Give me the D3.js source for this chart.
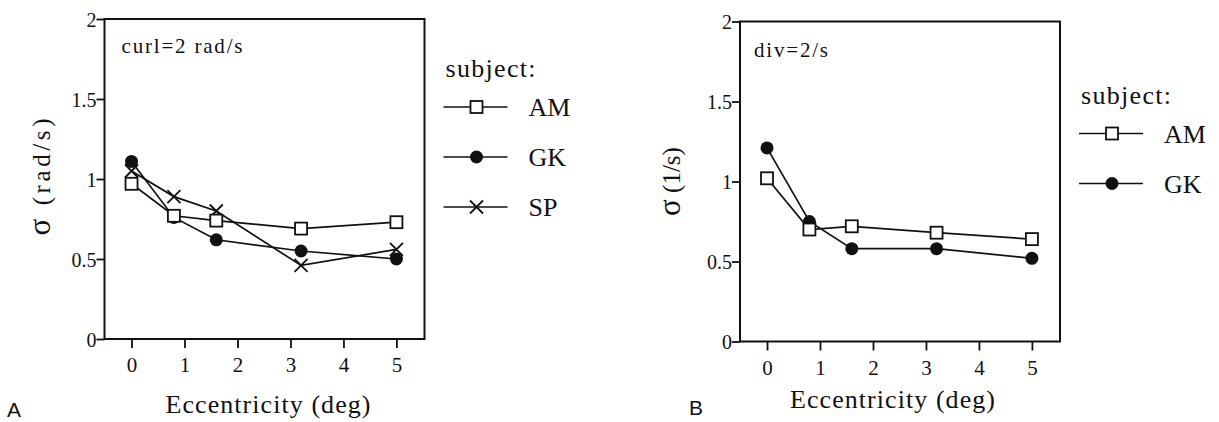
<!DOCTYPE html>
<html>
  <head>
    <script src="https://d3js.org/d3.v7.min.js"></script>
  </head>
  <style type="text/css">
    body { margin: 0; background: #fff; }
    svg { display: block; }
    .serif { font-family: "Liberation Serif", "Times New Roman", serif; fill: #111; }
    .sans { font-family: "Liberation Sans", Arial, sans-serif; fill: #111; }
  </style>
  <body>
    <div id="chart"></div>
  <script type="text/javascript">

    // eccentricities (deg) where the thresholds were measured
    var ecc = [0, 0.8, 1.6, 3.2, 5];

    // panel A: curl = 2 rad/s
    var curlAM = [0.97, 0.77, 0.74, 0.69, 0.73];
    var curlGK = [1.11, 0.76, 0.62, 0.55, 0.50];
    var curlSP = [1.05, 0.89, 0.80, 0.46, 0.56];

    // panel B: div = 2/s
    var divAM = [1.02, 0.70, 0.72, 0.68, 0.64];
    var divGK = [1.21, 0.75, 0.58, 0.58, 0.52];

    var xTicks = [0, 1, 2, 3, 4, 5];
    var yTicks = [0, 0.5, 1, 1.5, 2];
    var yTickLabels = ["0", "0.5", "1", "1.5", "2"];

    var width = 1219;
    var height = 422;

    var svg = d3.select("#chart")
      .append("svg")
        .attr("width", width)
        .attr("height", height);

    function drawMarker(g, type, cx, cy) {
      if (type == "square") {
        g.append("rect")
          .attr("x", cx - 6).attr("y", cy - 6)
          .attr("width", 12).attr("height", 12)
          .attr("fill", "#fff")
          .attr("stroke", "#111")
          .attr("stroke-width", 1.8);
      } else if (type == "circle") {
        g.append("circle")
          .attr("cx", cx).attr("cy", cy)
          .attr("r", 6.5)
          .attr("fill", "#111");
      } else {
        g.append("path")
          .attr("d", "M" + (cx - 6.5) + "," + (cy - 6.5) + "L" + (cx + 6.5) + "," + (cy + 6.5) +
                     "M" + (cx - 6.5) + "," + (cy + 6.5) + "L" + (cx + 6.5) + "," + (cy - 6.5))
          .attr("stroke", "#111")
          .attr("stroke-width", 1.8)
          .attr("fill", "none");
      }
    }

    function drawPanel(p) {
      var g = svg.append("g")
        .attr("transform", "translate(" + p.left + "," + p.top + ")");

      var x = d3.scaleLinear()
        .domain([-0.51, 5.53])
        .range([0, p.w]);

      var y = d3.scaleLinear()
        .domain([0, 2])
        .range([p.h, 0]);

      // frame
      g.append("rect")
        .attr("width", p.w)
        .attr("height", p.h)
        .attr("fill", "none")
        .attr("stroke", "#111")
        .attr("stroke-width", 2);

      var xAxis = g.append("g")
        .attr("transform", "translate(0," + p.h + ")")
        .call(d3.axisBottom(x).tickValues(xTicks).tickSize(9).tickFormat(d3.format("d")));
      xAxis.select(".domain").remove();
      xAxis.selectAll("line").attr("stroke", "#111").attr("stroke-width", 1.8);
      xAxis.selectAll("text")
        .attr("class", "serif")
        .style("font-size", "21px")
        .attr("y", 33)
        .attr("dy", null);

      var yAxis = g.append("g")
        .call(d3.axisLeft(y).tickValues(yTicks).tickSize(8)
          .tickFormat(function(d, i) { return yTickLabels[i]; }));
      yAxis.select(".domain").remove();
      yAxis.selectAll("line").attr("stroke", "#111").attr("stroke-width", 1.8);
      yAxis.selectAll("text")
        .attr("class", "serif")
        .style("font-size", "20px")
        .attr("x", -8)
        .attr("dy", "0.36em");

      var line = d3.line()
        .x(function(d, i) { return x(ecc[i]); })
        .y(function(d) { return y(d); });

      p.series.forEach(function(s) {
        g.append("path")
          .datum(s.values)
          .attr("d", line)
          .attr("fill", "none")
          .attr("stroke", "#111")
          .attr("stroke-width", 1.7);
      });

      p.series.forEach(function(s) {
        s.values.forEach(function(v, i) {
          drawMarker(g, s.marker, x(ecc[i]), y(v));
        });
      });

      // condition note inside the box
      g.append("text")
        .attr("class", "serif")
        .attr("x", p.noteX)
        .attr("y", p.noteY)
        .attr("font-size", 21)
        .attr("textLength", p.noteLen)
        .attr("lengthAdjust", "spacing")
        .text(p.note);

      // axis titles
      g.append("text")
        .attr("class", "serif")
        .attr("x", p.xTitleX)
        .attr("y", p.xTitleY)
        .attr("text-anchor", "middle")
        .attr("font-size", 26)
        .attr("textLength", 205)
        .attr("lengthAdjust", "spacing")
        .text("Eccentricity (deg)");

      var yt = g.append("text")
        .attr("class", "serif")
        .attr("transform", "translate(" + p.yTitleX + "," + p.yTitleY + ") rotate(-90)")
        .attr("text-anchor", "middle")
        .attr("font-size", 25);
      yt.append("tspan").attr("font-size", 31).text("σ");
      yt.append("tspan").text(" " + p.yUnit);
      if (p.yTitleLen) yt.attr("textLength", p.yTitleLen).attr("lengthAdjust", "spacing");

      // legend
      var lg = g.append("g")
        .attr("transform", "translate(" + (p.w + 19) + "," + p.legendTop + ")");
      lg.append("text")
        .attr("class", "serif")
        .attr("x", 2)
        .attr("y", 0)
        .attr("font-size", 26)
        .attr("textLength", 90)
        .attr("lengthAdjust", "spacing")
        .text("subject:");
      p.series.slice().sort(function(a, b) { return a.order - b.order; }).forEach(function(s, i) {
        var ly = 30 + i * 50;
        lg.append("line")
          .attr("x1", 0).attr("x2", 64)
          .attr("y1", ly).attr("y2", ly)
          .attr("stroke", "#111")
          .attr("stroke-width", 1.7);
        drawMarker(lg, s.marker, 33, ly);
        lg.append("text")
          .attr("class", "serif")
          .attr("x", 85)
          .attr("y", ly + 9)
          .attr("font-size", 26)
          .text(s.name);
      });

      // panel letter
      svg.append("text")
        .attr("class", "sans")
        .attr("x", p.letterX)
        .attr("y", p.letterY)
        .attr("font-size", 21)
        .text(p.letter);
    }

    drawPanel({
      left: 104.5, top: 19, w: 320, h: 320,
      series: [
        { name: "SP", values: curlSP, marker: "cross", order: 2 },
        { name: "GK", values: curlGK, marker: "circle", order: 1 },
        { name: "AM", values: curlAM, marker: "square", order: 0 }
      ],
      note: "curl=2 rad/s", noteX: 17, noteY: 34, noteLen: 121,
      xTitleX: 163.5, xTitleY: 394,
      yTitleX: -55, yTitleY: 158, yUnit: "(rad/s)", yTitleLen: 117,
      legendTop: 58,
      letter: "A", letterX: 7, letterY: 417
    });

    drawPanel({
      left: 740, top: 21.5, w: 320, h: 320,
      series: [
        { name: "GK", values: divGK, marker: "circle", order: 1 },
        { name: "AM", values: divAM, marker: "square", order: 0 }
      ],
      note: "div=2/s", noteX: 14, noteY: 35.5, noteLen: 74,
      xTitleX: 152.5, xTitleY: 386.5,
      yTitleX: -60, yTitleY: 160, yUnit: "(1/s)",
      legendTop: 82,
      letter: "B", letterX: 689, letterY: 415
    });

  </script>
  </body>
</html>
